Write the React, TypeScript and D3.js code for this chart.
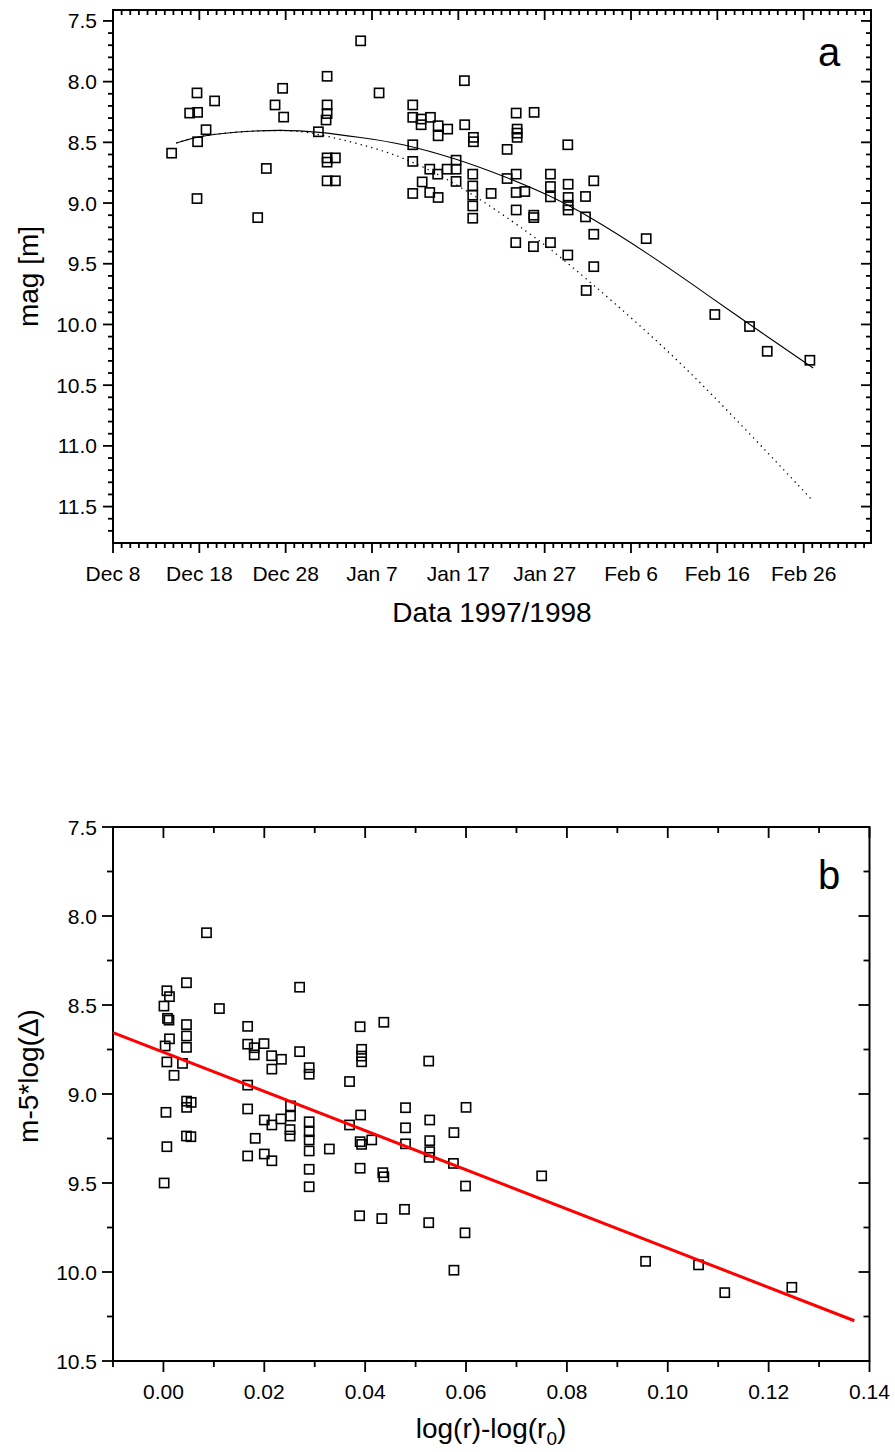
import React from "react";
import * as d3 from "d3";

const W = 895;
const H = 1452;
const FONT = "'Liberation Sans', Arial, Helvetica, sans-serif";

// ---------- Panel a : magnitude vs date (days after Dec 8, 1997) ----------
const dateTickLabels = ["Dec 8", "Dec 18", "Dec 28", "Jan 7", "Jan 17", "Jan 27", "Feb 6", "Feb 16", "Feb 26"];
const dateTickDays = [0, 10, 20, 30, 40, 50, 60, 70, 80];
const magTicks = [7.5, 8.0, 8.5, 9.0, 9.5, 10.0, 10.5, 11.0, 11.5];

const magObs: [number, number][] = [
  [6.79, 8.589], [8.88, 8.259], [9.73, 8.093], [9.8, 8.253], [9.8, 8.495], [9.73, 8.963],
  [10.78, 8.396], [11.77, 8.159], [16.76, 9.12], [17.76, 8.715], [18.77, 8.192], [19.65, 8.055],
  [19.77, 8.292], [23.79, 8.413], [24.8, 7.956], [24.8, 8.192], [24.8, 8.263], [24.68, 8.316],
  [24.8, 8.628], [25.76, 8.628], [24.8, 8.663], [24.8, 8.817], [25.76, 8.817], [28.69, 7.664],
  [30.82, 8.093],
  [34.72, 8.192], [34.72, 8.294], [35.69, 8.308], [35.69, 8.355], [36.77, 8.294], [37.66, 8.363],
  [37.66, 8.446], [38.77, 8.391], [40.74, 8.355], [40.7, 7.992], [41.75, 8.459], [41.75, 8.495],
  [46.7, 8.259], [48.78, 8.253], [46.81, 8.391], [46.81, 8.424], [46.81, 8.459], [45.65, 8.558],
  [52.68, 8.52], [34.72, 8.52], [34.72, 8.657], [39.74, 8.647], [39.74, 8.721], [36.69, 8.721],
  [37.61, 8.762], [38.7, 8.721], [39.74, 8.822], [35.81, 8.826], [41.67, 8.762], [41.67, 8.859],
  [41.67, 8.935], [41.67, 9.024], [41.67, 9.125], [34.72, 8.921], [36.69, 8.913], [37.66, 8.954],
  [43.8, 8.921], [46.7, 8.762], [45.65, 8.798], [46.7, 8.913], [47.7, 8.905], [46.7, 9.057],
  [48.74, 9.1], [48.74, 9.12], [50.67, 8.762], [50.67, 8.864], [50.67, 8.949], [52.72, 8.845],
  [52.72, 8.954], [52.72, 9.018], [52.72, 9.057], [55.69, 8.817], [54.73, 8.946], [54.73, 9.114],
  [55.69, 9.257], [61.76, 9.293], [46.65, 9.326], [48.7, 9.359], [50.67, 9.326], [52.68, 9.428],
  [55.69, 9.524], [54.81, 9.72], [69.71, 9.918], [73.73, 10.017], [75.78, 10.221], [80.72, 10.295],
];

const fitSolid: [number, number][] = [
  [7.33, 8.506], [9.73, 8.451], [13.97, 8.413], [19.58, 8.396], [23.79, 8.413], [28.7, 8.46],
  [33.29, 8.506], [39.74, 8.633], [45.65, 8.789], [50.67, 8.941], [54.73, 9.092],
  [61.9, 9.41], [69.6, 9.794], [73.73, 10.0], [81.1, 10.358],
];

const fitDotted: [number, number][] = [
  [7.33, 8.506], [9.73, 8.451], [13.97, 8.413], [19.58, 8.398], [21.7, 8.41], [23.79, 8.432],
  [28.7, 8.515], [33.29, 8.611], [39.74, 8.83], [48.74, 9.271],
  [52.68, 9.491], [63.42, 10.151], [71.15, 10.702], [80.9, 11.44],
];

// ---------- Panel b : reduced magnitude vs log(r)-log(r0) ----------
const logRTicks = [0.0, 0.02, 0.04, 0.06, 0.08, 0.1, 0.12, 0.14];
const redMagTicks = [7.5, 8.0, 8.5, 9.0, 9.5, 10.0, 10.5];

const redObs: [number, number][] = [
  [0.00854, 8.094], [0.00457, 8.375], [0.00068, 8.42], [0.0012, 8.453], [0.0001, 8.506], [0.027, 8.4],
  [0.0111, 8.52], [0.0008, 8.575], [0.0011, 8.585], [0.00457, 8.61], [0.00457, 8.674], [0.00457, 8.738],
  [0.0012, 8.69], [0.00034, 8.73], [0.0167, 8.62], [0.0437, 8.597], [0.039, 8.622], [0.0167, 8.72],
  [0.018, 8.74], [0.018, 8.78], [0.01994, 8.717], [0.02145, 8.785], [0.0234, 8.805], [0.0215, 8.86],
  [0.027, 8.762], [0.0289, 8.852], [0.0289, 8.889], [0.0393, 8.749], [0.0393, 8.787], [0.0393, 8.819],
  [0.0526, 8.815], [0.0369, 8.93], [0.00068, 8.82], [0.00378, 8.828], [0.0021, 8.895], [0.0167, 8.95],
  [0.0046, 9.04], [0.0046, 9.075], [0.0055, 9.047], [0.0005, 9.103], [0.0167, 9.084], [0.0252, 9.067],
  [0.0252, 9.124], [0.02, 9.146], [0.0215, 9.174], [0.0233, 9.14], [0.0251, 9.2], [0.0251, 9.236],
  [0.0182, 9.249], [0.0167, 9.348], [0.02, 9.337], [0.0215, 9.375], [0.00068, 9.296], [0.00457, 9.236],
  [0.00544, 9.24], [0.00014, 9.5], [0.0289, 9.156], [0.0289, 9.212], [0.0289, 9.258], [0.0289, 9.32],
  [0.0289, 9.423], [0.0289, 9.521], [0.0329, 9.309], [0.0369, 9.174], [0.048, 9.077], [0.06, 9.075],
  [0.0391, 9.118], [0.0528, 9.146], [0.048, 9.19], [0.0576, 9.217], [0.039, 9.268], [0.0393, 9.283],
  [0.0413, 9.258], [0.048, 9.28], [0.0528, 9.262], [0.0528, 9.324], [0.0527, 9.356], [0.0575, 9.39],
  [0.039, 9.417], [0.0435, 9.442], [0.0437, 9.465], [0.0599, 9.517], [0.075, 9.46], [0.0389, 9.684],
  [0.0433, 9.7], [0.0478, 9.648], [0.0526, 9.723], [0.0598, 9.78], [0.0576, 9.99], [0.0956, 9.94],
  [0.1061, 9.96], [0.1113, 10.116], [0.1246, 10.086],
];

const fitLine: [number, number][] = [
  [-0.01, 8.655],
  [0.137, 10.274],
];

// ---------- helpers ----------
type Lin = d3.ScaleLinear<number, number>;

function Frame({ x, y, xMajor, xMinor, yMajor, yMinor, xLabel, yLabel, majorLen, minorLen }: {
  x: Lin; y: Lin; xMajor: number[]; xMinor: number[]; yMajor: number[]; yMinor: number[];
  xLabel: (v: number, i: number) => string; yLabel: (v: number) => string;
  majorLen: number; minorLen: number;
}) {
  const [x0, x1] = x.range();
  const [y0, y1] = y.range(); // y0 top, y1 bottom
  const sw = 1.8;
  return (
    <g>
      <rect x={x0} y={y0} width={x1 - x0} height={y1 - y0} fill="none" stroke="#000" strokeWidth={2} />
      {xMajor.map((v) => (
        <g key={"xM" + v}>
          <line x1={x(v)} x2={x(v)} y1={y1} y2={y1 + majorLen} stroke="#000" strokeWidth={sw} />
          <line x1={x(v)} x2={x(v)} y1={y0} y2={y0 + majorLen} stroke="#000" strokeWidth={sw} />
        </g>
      ))}
      {xMinor.map((v) => (
        <g key={"xm" + v}>
          <line x1={x(v)} x2={x(v)} y1={y1} y2={y1 + minorLen} stroke="#000" strokeWidth={sw} />
          <line x1={x(v)} x2={x(v)} y1={y0} y2={y0 + minorLen} stroke="#000" strokeWidth={sw} />
        </g>
      ))}
      {yMajor.map((v) => (
        <g key={"yM" + v}>
          <line x1={x0} x2={x0 - majorLen} y1={y(v)} y2={y(v)} stroke="#000" strokeWidth={sw} />
          <line x1={x1} x2={x1 - majorLen} y1={y(v)} y2={y(v)} stroke="#000" strokeWidth={sw} />
        </g>
      ))}
      {yMinor.map((v) => (
        <g key={"ym" + v}>
          <line x1={x0} x2={x0 - minorLen} y1={y(v)} y2={y(v)} stroke="#000" strokeWidth={sw} />
          <line x1={x1} x2={x1 - minorLen} y1={y(v)} y2={y(v)} stroke="#000" strokeWidth={sw} />
        </g>
      ))}
      {xMajor.map((v, i) => (
        <text key={"xl" + v} x={x(v)} y={y1 + 38} textAnchor="middle" fontSize={21} fontFamily={FONT}>
          {xLabel(v, i)}
        </text>
      ))}
      {yMajor.map((v) => (
        <text key={"yl" + v} x={x0 - 16} y={y(v) + 7.5} textAnchor="end" fontSize={21} fontFamily={FONT}>
          {yLabel(v)}
        </text>
      ))}
    </g>
  );
}

function Squares({ data, x, y }: { data: [number, number][]; x: Lin; y: Lin }) {
  const s = 9.2;
  return (
    <g>
      {data.map((d, i) => (
        <rect key={i} x={x(d[0]) - s / 2} y={y(d[1]) - s / 2} width={s} height={s}
          fill="none" stroke="#000" strokeWidth={1.6} />
      ))}
    </g>
  );
}

export default function App() {
  const xA = d3.scaleLinear().domain([0, 87.8]).range([113, 871]);
  const yA = d3.scaleLinear().domain([7.41, 11.8]).range([10, 543]);
  const xMinorA = d3.range(0, 88).filter((d) => d % 10 !== 0);
  const yMinorA = d3.range(75, 118).map((d) => d / 10).filter((v) => !magTicks.some((t) => Math.abs(t - v) < 1e-6));

  const xB = d3.scaleLinear().domain([-0.01, 0.14]).range([113, 869.5]);
  const yB = d3.scaleLinear().domain([7.5, 10.5]).range([827, 1361]);
  const xMinorB = [-0.01, 0.01, 0.03, 0.05, 0.07, 0.09, 0.11, 0.13];
  const yMinorB = [7.75, 8.25, 8.75, 9.25, 9.75, 10.25];

  const lineA = d3.line<[number, number]>().x((d) => xA(d[0])).y((d) => yA(d[1])).curve(d3.curveBasis);
  const lineB = d3.line<[number, number]>().x((d) => xB(d[0])).y((d) => yB(d[1]));

  const f1 = d3.format(".1f");
  const f2 = d3.format(".2f");

  return (
    <svg width={W} height={H} viewBox={`0 0 ${W} ${H}`} style={{ position: "absolute", left: 0, top: 0, background: "#fff" }}>
      <rect x={0} y={0} width={W} height={H} fill="#fff" />

      {/* Panel a */}
      <Frame x={xA} y={yA} xMajor={dateTickDays} xMinor={xMinorA} yMajor={magTicks} yMinor={yMinorA}
        xLabel={(_, i) => dateTickLabels[i]} yLabel={(v) => f1(v)} majorLen={10} minorLen={5} />
      <path d={lineA(fitSolid) || ""} fill="none" stroke="#000" strokeWidth={1.1} />
      <path d={lineA(fitDotted) || ""} fill="none" stroke="#000" strokeWidth={1.3} strokeDasharray="1.3 4.2" />
      <Squares data={magObs} x={xA} y={yA} />
      <text x={818} y={66} fontSize={40} fontFamily={FONT}>a</text>
      <text x={492} y={622} textAnchor="middle" fontSize={28} fontFamily={FONT}>Data 1997/1998</text>
      <text transform={`translate(38,${(10 + 543) / 2}) rotate(-90)`} textAnchor="middle" fontSize={28} fontFamily={FONT}>mag [m]</text>

      {/* Panel b */}
      <Frame x={xB} y={yB} xMajor={logRTicks} xMinor={xMinorB} yMajor={redMagTicks} yMinor={yMinorB}
        xLabel={(v) => f2(v)} yLabel={(v) => f1(v)} majorLen={11} minorLen={6} />
      <Squares data={redObs} x={xB} y={yB} />
      <path d={lineB(fitLine) || ""} fill="none" stroke="#ff0000" strokeWidth={3} />
      <text x={818} y={889} fontSize={40} fontFamily={FONT}>b</text>
      <text x={491} y={1438} textAnchor="middle" fontSize={28} fontFamily={FONT}>
        log(r)-log(r<tspan dy={7} fontSize={19}>0</tspan><tspan dy={-7}>)</tspan>
      </text>
      <text transform={`translate(38,1076) rotate(-90)`} textAnchor="middle" fontSize={28} fontFamily={FONT}>m-5*log(Δ)</text>
    </svg>
  );
}
